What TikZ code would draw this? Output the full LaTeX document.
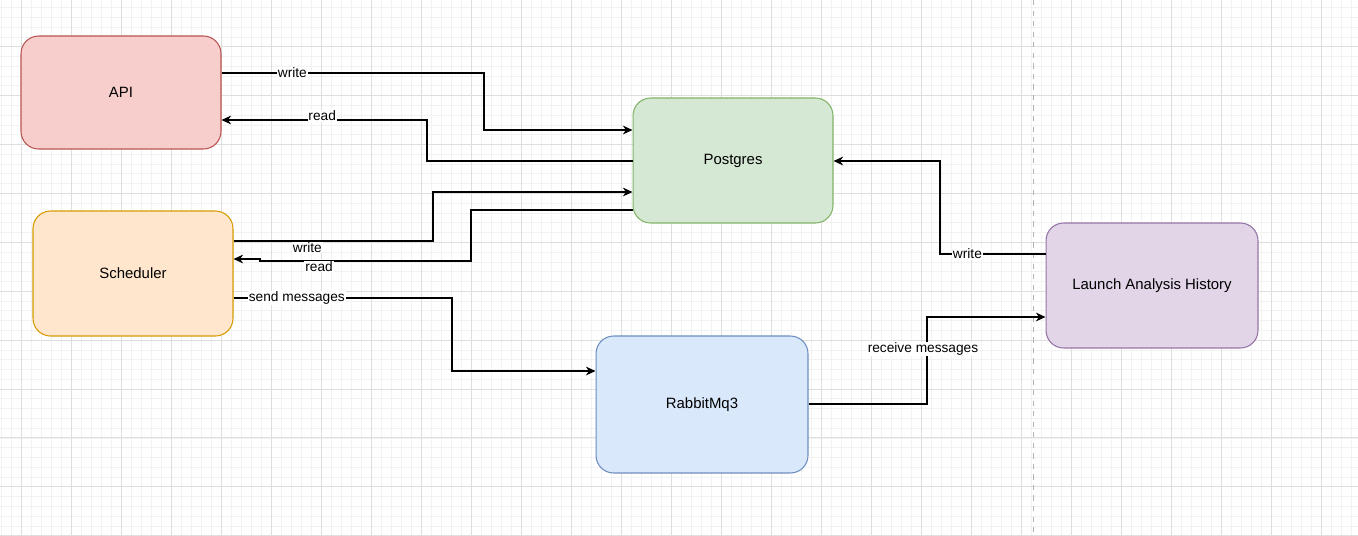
\documentclass[tikz,border=0pt]{standalone}
\usepackage{fontspec}
\setmainfont{Liberation Sans}
\usetikzlibrary{arrows.meta}
\definecolor{apifill}{HTML}{F8CECC}
\definecolor{apiline}{HTML}{B85450}
\definecolor{pgfill}{HTML}{D5E8D4}
\definecolor{pgline}{HTML}{82B366}
\definecolor{schfill}{HTML}{FFE6CC}
\definecolor{schline}{HTML}{D79B00}
\definecolor{mqfill}{HTML}{DAE8FC}
\definecolor{mqline}{HTML}{6C8EBF}
\definecolor{lahfill}{HTML}{E1D5E7}
\definecolor{lahline}{HTML}{9673A6}
\definecolor{gridminor}{HTML}{F2F2F2}
\definecolor{gridmajor}{HTML}{DEDEDE}

\begin{document}
\begin{tikzpicture}[x=0.02cm,y=-0.02cm,
    box/.style={rectangle, rounded corners=10pt, line width=0.6pt, inner sep=0pt,
        font=\fontsize{8.5}{10}\selectfont},
    flow/.style={line width=0.6pt, -{Stealth[length=5.5pt,width=5pt,inset=1.8pt]}},
    lbl/.style={fill=white, inner sep=0.5pt, font=\fontsize{7.8}{9}\selectfont}]
        % Fond et grille
        \useasboundingbox (0,0) rectangle (1358,535);
        \fill[white] (0,0) rectangle (1358,535);
        \foreach \i in {0,...,135} \draw[gridminor, line width=0.4pt] (1+10*\i,0) -- ++(0,535);
        \foreach \i in {0,...,55} \draw[gridminor, line width=0.4pt] (0,-2.2+9.78*\i) -- ++(1358,0);
        \foreach \i in {0,...,26} \draw[gridmajor, line width=0.5pt] (21+50*\i,0) -- ++(0,535);
        \foreach \i in {0,...,10} \draw[gridmajor, line width=0.5pt] (0,46.7+48.9*\i) -- ++(1358,0);
        % Separation
        \draw[gray!60, dashed, line width=0.5pt] (1033,0) -- (1033,535);
        % Blocs
        \node[box, fill=apifill, draw=apiline, minimum width=4cm, minimum height=2.26cm] (api) at (121,92.5) {API};
        \node[box, fill=pgfill, draw=pgline, minimum width=4cm, minimum height=2.5cm] (pg) at (733,160.5) {Postgres};
        \node[box, fill=schfill, draw=schline, minimum width=4cm, minimum height=2.5cm] (sched) at (133,273.5) {Scheduler};
        \node[box, fill=mqfill, draw=mqline, minimum width=4.24cm, minimum height=2.74cm] (mq) at (702,404.5) {RabbitMq3};
        \node[box, fill=lahfill, draw=lahline, minimum width=4.24cm, minimum height=2.5cm] (lah) at (1152,285.5) {Launch Analysis History};
        % API <-> Postgres
        \draw[flow] (api.east |- 0,73) -- node[lbl, pos=0.27] {write} (484,73) |- (pg.west |- 0,130);
        \draw[flow] (pg.west |- 0,161) -| (427,120) -- node[lbl, pos=0.51, yshift=0.08cm] {read} (api.east |- 0,120);
        % Scheduler <-> Postgres
        \draw[flow] (sched.east |- 0,241) -- node[lbl, pos=0.37, yshift=-0.13cm] {write} (433,241) |- (pg.west |- 0,192);
        \draw[flow] (pg.west |- 0,210) -| (471,261) -- node[lbl, pos=0.72, yshift=-0.11cm] {read} (260,261) -- (260,259) -- (sched.east |- 0,259);
        % Scheduler -> RabbitMq3
        \draw[flow] (sched.east |- 0,298) -- node[lbl, pos=0.29] {send messages} (452,298) |- (mq.west |- 0,371);
        % RabbitMq3 -> Launch Analysis History
        \draw[flow] (mq.east |- 0,404) -| (927,317) -- (lah.west |- 0,317);
        \node[lbl] (recv) at (923,349) {receive messages};
        % Launch Analysis History -> Postgres
        \draw[flow] (lah.west |- 0,254) -- node[lbl, pos=0.74] {write} (940,254) |- (pg.east |- 0,161);
    \end{tikzpicture}
\end{document}
